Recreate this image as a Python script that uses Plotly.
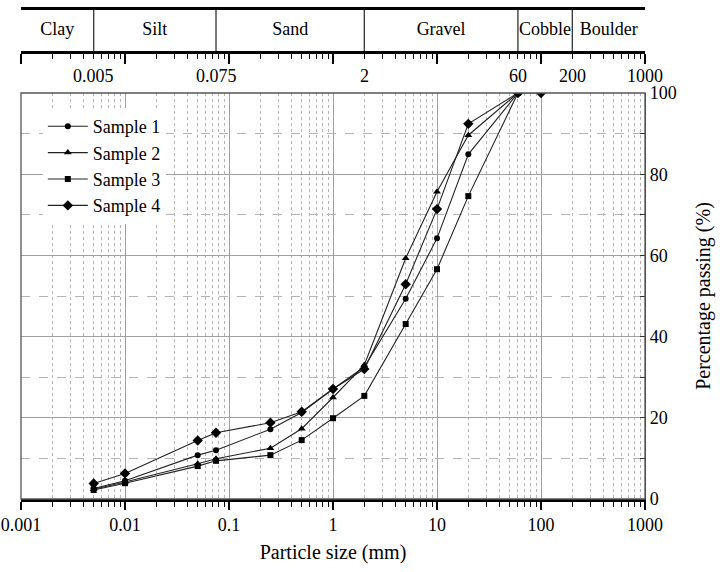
import math
import plotly.graph_objects as go

# ---------------- data ----------------
sizes = [0.005, 0.01, 0.05, 0.075, 0.25, 0.5, 1, 2, 5, 10, 20, 60]
sizes_s4 = sizes + [100]
sample1 = [2.6, 4.5, 10.8, 12.0, 17.2, 21.3, 27.1, 32.5, 49.3, 64.2, 84.9, 100]
sample2 = [2.4, 4.2, 8.7, 9.9, 12.5, 17.3, 25.0, 33.0, 59.3, 75.7, 89.6, 100]
sample3 = [2.2, 3.9, 8.1, 9.4, 10.8, 14.5, 19.9, 25.4, 43.1, 56.6, 74.6, 100]
sample4 = [3.8, 6.3, 14.4, 16.3, 18.8, 21.5, 27.1, 32.0, 52.9, 71.4, 92.4, 100, 100]

band_edges = [0.001, 0.005, 0.075, 2, 60, 200, 1000]
band_names = ["Clay", "Silt", "Sand", "Gravel", "Cobble", "Boulder"]
top_label_vals = [0.005, 0.075, 2, 60, 200, 1000]
top_label_text = ["0.005", "0.075", "2", "60", "200", "1000"]

x_tick_vals = [0.001, 0.01, 0.1, 1, 10, 100, 1000]
x_tick_text = ["0.001", "0.01", "0.1", "1", "10", "100", "1000"]
y_tick_vals = [0, 20, 40, 60, 80, 100]

FONT = "Liberation Serif, Times New Roman, serif"
minor_vals = [m * 10 ** e for e in range(-3, 3) for m in range(2, 10)]

# pixel layout helpers
W, H = 720, 572
mt, mb, ml, mr = 10, 73, 21, 75
ph = H - mt - mb
def py(p):  # pixel y -> paper y
    return (H - mb - p) / ph

fig = go.Figure()

series = [
    ("Sample 1", sizes, sample1, "circle", 6),
    ("Sample 2", sizes, sample2, "triangle-up", 7),
    ("Sample 3", sizes, sample3, "square", 6),
    ("Sample 4", sizes_s4, sample4, "diamond", 8),
]
for name, xs, ys, sym, sz in series:
    fig.add_trace(go.Scatter(
        x=xs, y=ys, name=name, mode="lines+markers",
        line=dict(color="#222222", width=1.1),
        marker=dict(symbol=sym, size=sz, color="black"),
        xaxis="x", yaxis="y",
    ))

# top classification band: dividers
for e in band_edges[1:-1]:
    fig.add_trace(go.Scatter(
        x=[e, e], y=[0, 1], mode="lines", line=dict(color="#333333", width=1.3),
        xaxis="x2", yaxis="y2", showlegend=False, hoverinfo="skip",
    ))
mids = [10 ** ((math.log10(a) + math.log10(b)) / 2) for a, b in zip(band_edges[:-1], band_edges[1:])]
fig.add_trace(go.Scatter(
    x=mids, y=[0.5] * len(mids), mode="text", text=band_names,
    textfont=dict(family=FONT, size=18, color="black"), textposition="middle center",
    xaxis="x2", yaxis="y2", showlegend=False, hoverinfo="skip", cliponaxis=False,
))

for v, t in zip(top_label_vals, top_label_text):
    fig.add_annotation(
        x=math.log10(v), xref="x2", y=py(76), yref="paper", text=t, showarrow=False,
        font=dict(family=FONT, size=18, color="black"), xanchor="center", yanchor="middle",
    )

main_top = py(93)
fig.update_layout(
    width=W, height=H,
    margin=dict(l=ml, r=mr, t=mt, b=mb, autoexpand=False),
    paper_bgcolor="white", plot_bgcolor="white",
    font=dict(family=FONT, size=18, color="black"),
    xaxis=dict(
        type="log", range=[-3, 3], anchor="y", domain=[0, 1], automargin=False,
        tickvals=x_tick_vals, ticktext=x_tick_text,
        ticks="outside", ticklen=8, tickwidth=1.5, tickcolor="black",
        showline=True, linecolor="black", linewidth=2.5,
        showgrid=True, gridcolor="#a0a0a0", gridwidth=1,
        zeroline=False,
        minor=dict(tickvals=minor_vals, ticks="outside", ticklen=5, tickwidth=1.2,
                   tickcolor="black", showgrid=True, gridcolor="#b4b4b4", griddash="dot", gridwidth=1),
        title=dict(text="Particle size (mm)", font=dict(family=FONT, size=20), standoff=11),
        tickfont=dict(family=FONT, size=18),
    ),
    yaxis=dict(
        range=[0, 100], domain=[0, main_top], anchor="x", side="right", automargin=False,
        tickvals=y_tick_vals, ticks="inside", ticklen=5, tickcolor="#333333",
        showline=True, linecolor="#444444", linewidth=1.2,
        showgrid=True, gridcolor="#a0a0a0", gridwidth=1.2, zeroline=False,
        minor=dict(dtick=10, ticks="inside", ticklen=5, tickcolor="#333333",
                   showgrid=True, gridcolor="#b4b4b4", griddash="dash", gridwidth=1),
        title=dict(text="Percentage passing (%)", font=dict(family=FONT, size=20), standoff=20),
        tickfont=dict(family=FONT, size=18),
    ),
    xaxis2=dict(
        type="log", range=[-3, 3], anchor="y2", domain=[0, 1], automargin=False,
        showline=True, linecolor="black", linewidth=2.5, mirror=True,
        tickvals=x_tick_vals, ticks="outside", ticklen=10, tickwidth=1.5, tickcolor="black",
        showticklabels=False, showgrid=False, zeroline=False,
        minor=dict(tickvals=minor_vals, ticks="outside", ticklen=5, tickwidth=1.2,
                   tickcolor="black", showgrid=False),
    ),
    yaxis2=dict(range=[0, 1], domain=[py(51), 1], anchor="x2", visible=False, automargin=False),
    legend=dict(
        x=0.035, y=py(108), xanchor="left", yanchor="top",
        bgcolor="white", borderwidth=0,
        font=dict(family=FONT, size=18, color="black"),
        itemwidth=40, tracegroupgap=0,
    ),
    showlegend=True,
)

# plot frame (left/top borders)
fig.add_shape(type="rect", xref="x domain", yref="y domain", x0=0, x1=1, y0=0, y1=1,
              line=dict(color="#555555", width=1.3), layer="above")

fig.write_html("out.html")
